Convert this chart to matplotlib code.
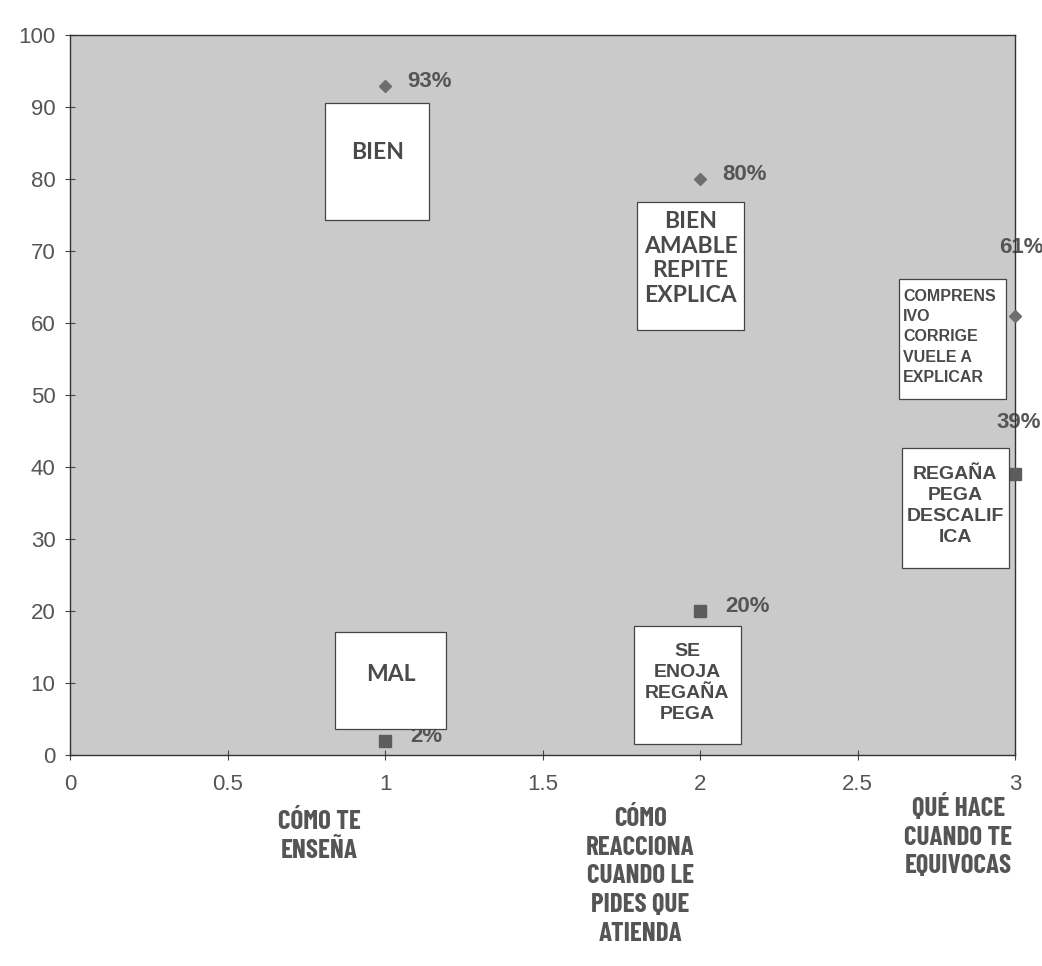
import matplotlib.pyplot as plt
from matplotlib.patches import Rectangle

# data
positions = [1, 2, 3]
good_values = [93, 80, 61]   # diamond series
bad_values = [2, 20, 39]     # square series

categories = [
    "CÓMO TE\nENSEÑA",
    "CÓMO\nREACCIONA\nCUANDO LE\nPIDES QUE\nATIENDA",
    "QUÉ HACE\nCUANDO TE\nEQUIVOCAS",
]
category_x = [0.79, 1.81, 2.82]
category_y = [-0.077, -0.072, -0.054]

good_notes = ["BIEN", "BIEN\nAMABLE\nREPITE\nEXPLICA",
              "COMPRENS\nIVO\nCORRIGE\nVUELE A\nEXPLICAR"]
bad_notes = ["MAL", "SE\nENOJA\nREGAÑA\nPEGA", "REGAÑA\nPEGA\nDESCALIF\nICA"]

# note boxes: (x0, x1, y0, y1) in data units, text anchor, style
note_boxes = [
    ((0.81, 1.14, 74.4, 90.6), (0.975, 83.7), 'humanist'),
    ((1.80, 2.14, 59.1, 76.8), (1.97, 69.0), 'humanist'),
    ((2.63, 2.97, 49.5, 66.1), (2.645, 58.1), 'small'),
    ((0.84, 1.195, 3.6, 17.1), (1.02, 11.2), 'humanist'),
    ((1.79, 2.13, 1.6, 17.95), (1.96, 10.05), 'arial'),
    ((2.64, 2.98, 26.0, 42.6), (2.81, 34.6), 'arial'),
]

TXT = '#555555'

fig = plt.figure(figsize=(10.42, 9.66), dpi=100)
ax = fig.add_axes([0.0672, 0.2184, 0.907, 0.745])
ax.set_facecolor('#cacaca')

ax.plot(positions, good_values, linestyle='none', marker='D', ms=6.5,
        color='#6e6e6e', zorder=3, clip_on=False)
ax.plot(positions, bad_values, linestyle='none', marker='s', ms=8,
        color='#5c5c5c', zorder=3, clip_on=False)

# value labels
lab = dict(fontsize=16, fontweight='bold', color=TXT, family='Liberation Sans',
           zorder=2, clip_on=False)
for x, v in zip(positions, good_values):
    if x < 3:
        ax.text(x + 0.07, v + 0.6, f"{v}%", ha='left', va='center', **lab)
    else:
        ax.text(x + 0.02, v + 9.5, f"{v}%", ha='center', va='center', **lab)
for x, v in zip(positions, bad_values):
    if x < 3:
        ax.text(x + 0.08, v + 0.6, f"{v}%", ha='left', va='center', **lab)
    else:
        ax.text(x + 0.01, v + 7.2, f"{v}%", ha='center', va='center', **lab)

# white note boxes
notes = good_notes + bad_notes
for note, (box, (tx, ty), style) in zip(notes, note_boxes):
    x0, x1, y0, y1 = box
    ax.add_patch(Rectangle((x0, y0), x1 - x0, y1 - y0, facecolor='white',
                           edgecolor='#444444', lw=0.9, zorder=4))
    if style == 'humanist':
        ax.text(tx, ty, note, ha='center', va='center', fontsize=16.5, fontweight='bold',
                color='#4a4a4a', family='Lato', linespacing=1.2, zorder=5)
    elif style == 'small':
        ax.text(tx, ty, note, ha='left', va='center', fontsize=11.5, fontweight='bold',
                color='#4a4a4a', family='Liberation Sans', linespacing=1.45, zorder=5)
    else:
        ax.text(tx, ty, note, ha='center', va='center', fontsize=14, fontweight='bold',
                color='#4a4a4a', family='Liberation Sans', linespacing=1.3, zorder=5)

ax.set_xlim(0, 3)
ax.set_ylim(0, 100)
ax.set_xticks([0, 0.5, 1, 1.5, 2, 2.5, 3])
ax.set_xticklabels(['0', '0.5', '1', '1.5', '2', '2.5', '3'])
ax.set_yticks(range(0, 101, 10))
ax.tick_params(axis='both', direction='inout', length=7, width=0.8, color='#444444',
               labelsize=16, labelcolor=TXT)
ax.tick_params(axis='x', pad=10)
ax.tick_params(axis='y', pad=7)
for lbl in ax.get_xticklabels() + ax.get_yticklabels():
    lbl.set_family('Liberation Sans')
for s in ax.spines.values():
    s.set_color('#333333')
    s.set_linewidth(1.0)

# category names under the axis
for name, cx, cy in zip(categories, category_x, category_y):
    ax.text(cx, cy, name, transform=ax.get_xaxis_transform(), ha='center', va='top',
            fontsize=19.5, fontweight='bold', color=TXT, linespacing=1.25,
            family=['Barlow Condensed', 'DejaVu Sans'])

fig.savefig('out.png', dpi=100, facecolor='white')
